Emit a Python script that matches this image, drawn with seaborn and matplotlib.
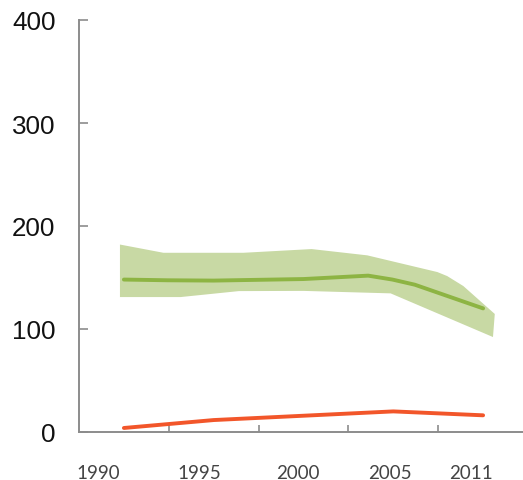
import matplotlib
matplotlib.use("Agg")
import matplotlib.pyplot as plt
import seaborn as sns
import pandas as pd
import numpy as np

# Period labels (one category per period)
categories = ["1990", "1995", "2000", "2005", "2011"]

# Lower series, one value per period
orange_values = [3.9, 11.6, 15.8, 20.0, 16.2]

# Upper series, positions on the category scale and values
green_x = [0.0, 0.49, 1.0, 2.0, 2.72, 2.99, 3.24, 4.0]
green_values = [148, 147.3, 147, 148.5, 151.8, 148, 143, 120]

# Uncertainty band around the upper series
band_upper_x = [-0.044, 0.44, 1.33, 2.09, 2.71, 3.49, 3.6, 3.78, 4.13]
band_upper = [182, 174, 174, 177.6, 171.5, 155.3, 151.4, 141.7, 114.6]
band_lower_x = [-0.044, 0.63, 1.28, 2.0, 2.97, 4.11]
band_lower = [131, 131, 136.8, 137, 134.6, 92.2]

y_ticks = [0, 100, 200, 300, 400]

GREEN_BAND = "#c8d9a4"
GREEN_LINE = "#8db443"
ORANGE = "#f2562a"
AXIS_GREY = "#8c8c8c"

sns.set_style("white")
plt.rcParams["font.family"] = ["Liberation Sans", "DejaVu Sans"]

fig = plt.figure(figsize=(5.23, 4.81), dpi=100)
ax = fig.add_axes([79 / 523, 48 / 481, 449 / 523, 412 / 481])

# band polygon: upper edge left-to-right, lower edge right-to-left
poly_x = list(band_upper_x) + list(band_lower_x[::-1])
poly_y = list(band_upper) + list(band_lower[::-1])
ax.fill(poly_x, poly_y, color=GREEN_BAND, lw=0, zorder=1)

green_df = pd.DataFrame({"x": green_x, "y": green_values})
sns.lineplot(data=green_df, x="x", y="y", ax=ax, color=GREEN_LINE,
             lw=2.8, sort=False, zorder=3)

orange_df = pd.DataFrame({"x": np.arange(len(categories)), "y": orange_values})
sns.lineplot(data=orange_df, x="x", y="y", ax=ax, color=ORANGE,
             lw=2.8, sort=False, zorder=3)

ax.set_xlim(-0.5, len(categories) - 0.5)
ax.set_ylim(0, 400)
ax.set_xlabel("")
ax.set_ylabel("")

for side in ("top", "right"):
    ax.spines[side].set_visible(False)
for side in ("left", "bottom"):
    ax.spines[side].set_color(AXIS_GREY)
    ax.spines[side].set_linewidth(1.4)

# y axis: inward ticks, large labels
ax.set_yticks(y_ticks)
ax.set_yticklabels([str(v) for v in y_ticks], color="#111111")
ax.tick_params(axis="y", direction="in", length=6.5, width=1.2,
               color=AXIS_GREY, labelsize=18.7, pad=17, left=True)

# x axis: boundary ticks between categories, labels near each period
label_pos = [-0.284, 0.845, 1.935, 2.965, 3.87]
ax.set_xticks(label_pos)
ax.set_xticklabels(categories, fontfamily=["Lato", "DejaVu Sans"],
                   color="#444444")
ax.tick_params(axis="x", which="major", length=0, labelsize=13.5, pad=23)
ax.set_xticks(np.arange(len(categories) - 1) + 0.5, minor=True)
ax.tick_params(axis="x", which="minor", direction="in", length=5,
               width=1.2, color=AXIS_GREY, bottom=True)

fig.savefig("out.png", dpi=100)
